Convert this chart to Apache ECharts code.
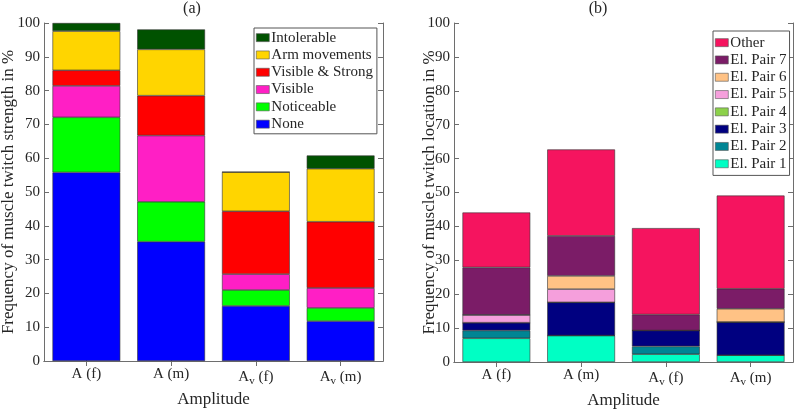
<!DOCTYPE html>
<html>
<head>
<meta charset="utf-8">
<script src="https://cdn.jsdelivr.net/npm/echarts@6/dist/echarts.min.js"></script>
<style>
  html, body { margin: 0; padding: 0; background: #fff; }
  #chart { width: 796px; height: 412px; }
</style>
</head>
<body>
<div id="chart"></div>
<script>
// categories (Av = A with subscript v)
const categories = ['A (f)', 'A (m)', 'Av (f)', 'Av (m)'];

// (a) strength, stacked bottom -> top
const strengthNames = ['None', 'Noticeable', 'Visible', 'Visible & Strong', 'Arm movements', 'Intolerable'];
const none = [55.8, 35.3, 16.3, 11.8];
const noticeable = [16.3, 11.8, 4.7, 3.9];
const visible = [9.3, 19.6, 4.7, 5.9];
const visibleStrong = [4.6, 11.8, 18.6, 19.6];
const armMovements = [11.6, 13.7, 11.6, 15.7];
const intolerable = [2.4, 5.9, 0, 3.9];
const strengthColors = ['#0000ff', '#00ff00', '#ff1fc5', '#ff0000', '#ffd500', '#005200'];

// (b) location, stacked bottom -> top
const locationNames = ['El. Pair 1', 'El. Pair 2', 'El. Pair 3', 'El. Pair 4', 'El. Pair 5', 'El. Pair 6', 'El. Pair 7', 'Other'];
const pair1 = [7.0, 7.8, 2.3, 2.0];
const pair2 = [2.3, 0, 2.3, 0];
const pair3 = [2.3, 9.8, 4.7, 9.8];
const pair4 = [0, 0, 0, 0];
const pair5 = [2.3, 3.9, 0, 0];
const pair6 = [0, 3.9, 0, 3.9];
const pair7 = [14.0, 11.8, 4.7, 5.9];
const other = [16.2, 25.5, 25.5, 27.5];
const locationColors = ['#00ffc4', '#008594', '#000080', '#8cd14a', '#f59fdc', '#ffc285', '#7b1c67', '#f5145f'];

const strengthData = [none, noticeable, visible, visibleStrong, armMovements, intolerable];
const locationData = [pair1, pair2, pair3, pair4, pair5, pair6, pair7, other];

const chart = echarts.init(document.getElementById('chart'));

const font = 'Liberation Serif';
const txt = '#262626';
const axisCol = '#6e6e6e';

function xLabel(v) {
  if (v.indexOf('Av') === 0) return 'A{s|v}' + v.slice(2);
  return v;
}

function makeX(gi, pos, show) {
  return {
    type: 'category',
    gridIndex: gi,
    position: pos,
    data: categories,
    axisLine: { show: true, lineStyle: { color: axisCol, width: 1 } },
    axisTick: { show: true, inside: true, alignWithLabel: true, interval: 0, length: 5, lineStyle: { color: axisCol } },
    axisLabel: show ? {
      show: true, interval: 0, fontFamily: font, fontSize: 15, color: txt, margin: 6,
      formatter: xLabel,
      rich: { s: { fontFamily: font, fontSize: 11, color: txt, padding: [9, 0, 0, 0] } }
    } : { show: false },
    name: show ? 'Amplitude' : '',
    nameLocation: 'middle',
    nameGap: 30,
    nameMoveOverlap: false,
    nameTextStyle: { fontFamily: font, fontSize: 17, color: txt }
  };
}

function makeY(gi, pos, show, name, gap) {
  return {
    type: 'value',
    gridIndex: gi,
    position: pos,
    min: 0, max: 100, interval: 10,
    splitLine: { show: false },
    axisLine: { show: true, lineStyle: { color: axisCol, width: 1 } },
    axisTick: { show: true, inside: true, length: 5, lineStyle: { color: axisCol } },
    axisLabel: show ? { show: true, fontFamily: font, fontSize: 15, color: txt, margin: 4 } : { show: false },
    name: show ? name : '',
    nameLocation: 'middle',
    nameGap: gap,
    nameMoveOverlap: false,
    nameTextStyle: { fontFamily: font, fontSize: 17, color: txt }
  };
}

const series = [];
strengthNames.forEach((n, i) => {
  series.push({
    name: n, type: 'bar', stack: 'a', xAxisIndex: 0, yAxisIndex: 0,
    barWidth: '80%', data: strengthData[i],
    itemStyle: { color: strengthColors[i], borderColor: '#333', borderWidth: 0.6 }
  });
});
locationNames.forEach((n, i) => {
  series.push({
    name: n, type: 'bar', stack: 'b', xAxisIndex: 2, yAxisIndex: 2,
    barWidth: '80%', data: locationData[i],
    itemStyle: { color: locationColors[i], borderColor: '#333', borderWidth: 0.6 }
  });
});

const legendBase = {
  orient: 'vertical',
  icon: 'rect',
  itemWidth: 13,
  itemHeight: 8,
  itemGap: 0,
  backgroundColor: '#fff',
  borderColor: '#555',
  borderWidth: 1,
  borderRadius: 0,
  textStyle: { fontFamily: font, fontSize: 15, color: txt, lineHeight: 17.3, padding: [0, 0, 0, -3] },
  itemStyle: { borderColor: '#555', borderWidth: 0.6 }
};

const option = {
  animation: false,
  title: [
    { text: '(a)', left: 192, top: 1, padding: 0, textAlign: 'center', textStyle: { fontFamily: font, fontSize: 16, fontWeight: 'normal', color: txt } },
    { text: '(b)', left: 598, top: 1, padding: 0, textAlign: 'center', textStyle: { fontFamily: font, fontSize: 16, fontWeight: 'normal', color: txt } }
  ],
  grid: [
    { left: 44, top: 23, width: 339, height: 338, containLabel: false, outerBoundsMode: 'none' },
    { left: 454, top: 23, width: 339, height: 339, containLabel: false, outerBoundsMode: 'none' }
  ],
  xAxis: [makeX(0, 'bottom', true), makeX(0, 'top', false), makeX(1, 'bottom', true), makeX(1, 'top', false)],
  yAxis: [
    makeY(0, 'left', true, 'Frequency of muscle twitch strength in %', 27),
    makeY(0, 'right', false, '', 0),
    makeY(1, 'left', true, 'Frequency of muscle twitch location in %', 16),
    makeY(1, 'right', false, '', 0)
  ],
  legend: [
    Object.assign({}, legendBase, { left: 254, top: 28, padding: [1, 4, 1, 2], data: strengthNames.slice().reverse() }),
    Object.assign({}, legendBase, { left: 713, top: 31, padding: [3, 3, 3, 2], data: locationNames.slice().reverse() })
  ],
  series: series
};

chart.setOption(option);
</script>
</body>
</html>
